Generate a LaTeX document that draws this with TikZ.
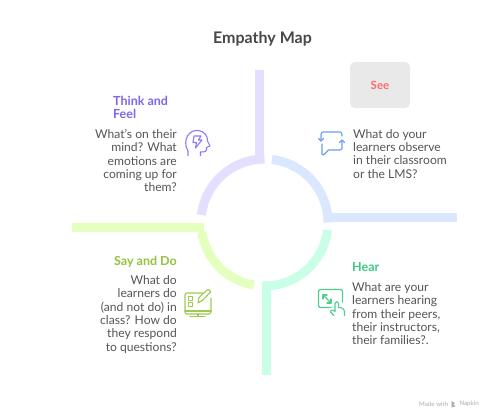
\documentclass[tikz,border=0pt]{standalone}
\usepackage{fontspec}
\setmainfont{Lato}
\definecolor{cpurple}{HTML}{E4DFFF}
\definecolor{cblue}{HTML}{DBE7FF}
\definecolor{cyellow}{HTML}{E4FFBE}
\definecolor{cmint}{HTML}{C8FFE6}
\definecolor{ipurple}{HTML}{8B7CF6}
\definecolor{iblue}{HTML}{6C9EF8}
\definecolor{igreen}{HTML}{9CCB50}
\definecolor{imint}{HTML}{4FD08F}
\definecolor{tpurple}{HTML}{7B68EE}
\definecolor{tgreen}{HTML}{96C23C}
\definecolor{tmint}{HTML}{3CCB85}
\definecolor{tred}{HTML}{FF6B6B}
\definecolor{ttext}{HTML}{555555}
\tikzset{
  px/.style={x=1pt,y=-1pt},
  band/.style={line width=9pt,line cap=butt},
  icon/.style={line width=1.1pt,line cap=round,line join=round},
  body/.style={font=\fontsize{12.1}{13.3}\selectfont,text=ttext,inner sep=0pt,align=#1},
  head/.style={font=\fontsize{12.5}{13.3}\selectfont\bfseries,inner sep=0pt,align=#1},
}
\begin{document}
\begin{tikzpicture}[px]
\useasboundingbox (0,0) rectangle (493,420);
\fill[white] (0,0) rectangle (493,420);
% title
\node[font=\fontsize{16}{18}\selectfont\bfseries,text=black!72,inner sep=0pt] (title) at (262.5,38.5) {Empathy Map};
% bars
\fill[cpurple] (255,70) rectangle (264,163);
\fill[cblue] (325,213) rectangle (457,222);
\fill[cyellow] (72,223) rectangle (204,232);
\fill[cmint] (262,282) rectangle (270.5,375);
% arcs (angles measured on the y-down picture)
\draw[band,cpurple] (201.45,215) arc[start angle=186.8,end angle=270,radius=63.5];
\draw[band,cblue] (272,159.45) arc[start angle=-83.2,end angle=0,radius=63.5];
\draw[band,cmint] (327.55,230) arc[start angle=6.8,end angle=92,radius=63.5];
\draw[band,cyellow] (201.7,232) arc[start angle=171.4,end angle=99.5,radius=63.5];
% see box
\node[fill=black!8.5,rounded corners=5pt,minimum width=60pt,minimum height=46pt,inner sep=0pt,font=\fontsize{11.5}{13}\selectfont\bfseries,text=tred] (see) at (380,85) {See};
% think
\node[head=left,text=tpurple,anchor=north west] (thinkh) at (113,96) {Think and\\Feel};
\node[body=right,anchor=north east] (thinkb) at (177,129) {What’s on their\\mind? What\\emotions are\\coming up for\\them?};
% see text
\node[body=left,anchor=north west] (seeb) at (353,129) {What do your\\learners observe\\in their classroom\\or the LMS?};
% say
\node[head=right,text=tgreen,anchor=north east] (sayh) at (177,256) {Say and Do};
\node[body=right,anchor=north east] (sayb) at (177,275.5) {What do\\learners do\\(and not do) in\\class? How do\\they respond\\to questions?};
% hear
\node[head=left,text=tmint,anchor=north west] (hearh) at (352,262.5) {Hear};
\node[body=left,anchor=north west] (hearb) at (352,282.5) {What are your\\learners hearing\\from their peers,\\their instructors,\\their families?.};
% head icon
\draw[icon,ipurple] (188,155.5) -- (188,151) .. controls (185,146) and (185,140) .. (187.5,136) .. controls (190,131.5) and (195,130) .. (198,130.5) .. controls (204,131) and (208,136) .. (207.5,141) -- (210,146) -- (206.5,147.5) -- (206.5,150) .. controls (206.5,151.5) and (205,152) .. (200.5,152) -- (200.5,155.5);
\draw[icon,ipurple] (194,136) -- (201,136) -- (198.5,140) -- (202,140) -- (195.5,148) -- (196.5,142.5) -- (193,142.5) -- cycle;
% chat icon
\draw[icon,iblue] (321,141) -- (321,134.5) .. controls (321,133) and (322,132) .. (323,132) -- (340,132) .. controls (341,132) and (342,133) .. (342,134.5) -- (342,136);
\draw[icon,iblue] (318.5,138.5) -- (321,141) -- (323.5,138.5);
\draw[icon,iblue] (322,144) -- (322,154) .. controls (322,155) and (323,155) .. (324,154.5) -- (328.5,150) -- (340,150) .. controls (341,150) and (342,149) .. (342,148) -- (342,140);
\draw[icon,iblue] (339.5,142.5) -- (342,140) -- (344.5,142.5);
% monitor icon
\draw[icon,igreen] (203,293) -- (187,293) .. controls (186,293) and (185,294) .. (185,295) -- (185,312) .. controls (185,313) and (186,314) .. (187,314) -- (209,314) .. controls (210,314) and (211,313) .. (211,312) -- (211,298);
\draw[icon,igreen] (185,311) -- (211,311);
\draw[icon,igreen] (190,316.5) -- (205,316.5) (198,314) -- (198,316.5);
\draw[icon,igreen] (188.5,296.5) rectangle (192.5,300.5);
\draw[icon,igreen] (188.5,302.5) rectangle (192.5,306.5);
\draw[icon,igreen] (198,303) -- (199,297.5) -- (207,290) .. controls (208.5,288.5) and (211,290) .. (210.5,292) -- (203,300) -- cycle;
% hand icon
\draw[icon,imint] (342.5,302) -- (342.5,291) .. controls (342.5,290) and (342,289.5) .. (341,289.5) -- (320,289.5) .. controls (319,289.5) and (318.5,290) .. (318.5,291) -- (318.5,306) .. controls (318.5,307) and (319,307.5) .. (320,307.5) -- (331,307.5);
\draw[icon,imint] (323,295) -- (331,303);
\draw[icon,imint] (323,299) -- (323,295) -- (327,295);
\draw[icon,imint] (331,299) -- (331,303) -- (327,303);
\draw[icon,imint] (334,315.5) -- (330.5,312) .. controls (330,310.5) and (332,309) .. (333.5,310.5) -- (335,311.5) -- (335,303.5) .. controls (335,301) and (338.5,301) .. (338.5,303.5) -- (338.5,307.5) .. controls (342,307.5) and (344.5,309) .. (344.5,311) -- (344.5,315.5);
% watermark
\node[font=\fontsize{6.2}{7}\selectfont,text=black!32,inner sep=0pt,anchor=west] (made) at (419,404) {Made with};
\node[font=\fontsize{6.2}{7}\selectfont,text=black!32,inner sep=0pt,anchor=east] (napkin) at (479,404) {Napkin};
\fill[black!35] (451.5,401) -- (455,403.5) -- (452.5,404) -- (455.5,406) -- (451.5,407.5) -- cycle;
\end{tikzpicture}
\end{document}
